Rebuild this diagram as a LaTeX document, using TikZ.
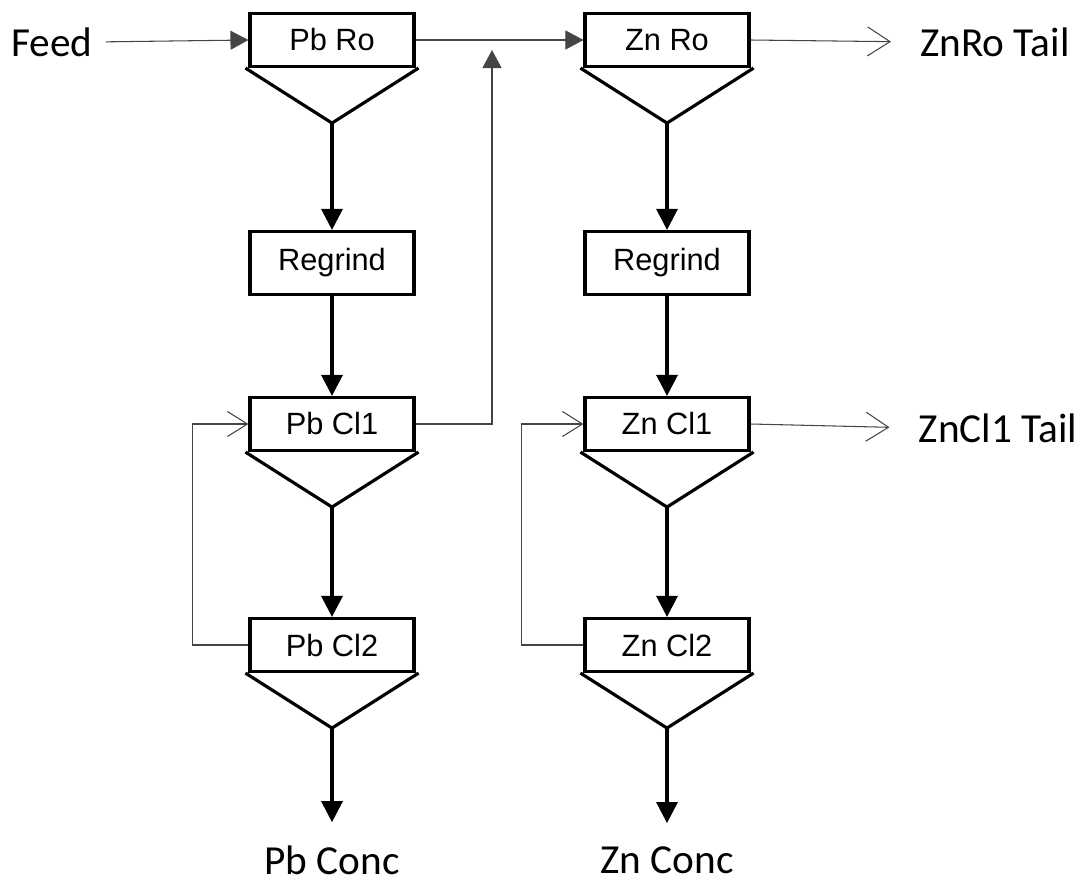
\documentclass[tikz,border=0pt]{standalone}
\usepackage{fontspec}
\setmainfont{Carlito}
\newfontfamily\boxfont{Liberation Sans}
\usetikzlibrary{positioning}
\usetikzlibrary{calc}
\usetikzlibrary{arrows.meta}
\definecolor{flowgray}{rgb}{0.27,0.27,0.27}
\tikzset{
  pics/flot_cell/.style args={#1,#2}{
     code={
       \node[cellbox] (#1) at (0,0) {#2};
       \draw[heavy] ($(#1.south west)+(-3,0)$) -- ($(#1.south)+(0,55)$) coordinate (#1-apex) -- ($(#1.south east)+(3,0)$);
     }
  },
  heavy/.style={line width=1.8pt, line join=miter},
  thinflow/.style={line width=0.6pt, draw=flowgray}
}

\begin{document}
\begin{tikzpicture}
    [x=0.02cm, y=-0.02cm,
    cellbox/.style={rectangle, draw, heavy, minimum width=3.28cm, minimum height=1.06cm, inner sep=0pt, font=\boxfont\fontsize{17.5}{20}\selectfont},
    grindbox/.style={cellbox, minimum height=1.26cm},
    stream/.style={font=\fontsize{23.5}{26}\selectfont, inner sep=0pt},
    solid tip/.style={-{Triangle[length=0.42cm, width=0.42cm]}},
    thin tip/.style={-{Triangle[length=0.36cm, width=0.38cm]}},
    open tip/.style={-{Straight Barb[length=0.45cm, width=0.58cm, line width=0.6pt]}},
    small tip/.style={-{Straight Barb[length=0.4cm, width=0.5cm, line width=0.6pt]}}]
    \useasboundingbox (0,0) rectangle (1085,883);
    % lead circuit
    \pic at (332,40) {flot_cell={pbro,Pb Ro}};
    \node[grindbox] (pbgrind) at (332,263) {Regrind};
    \pic at (332,424) {flot_cell={pbcl1,Pb Cl1}};
    \pic at (332,645) {flot_cell={pbcl2,Pb Cl2}};
    % zinc circuit
    \pic at (667,40) {flot_cell={znro,Zn Ro}};
    \node[grindbox] (zngrind) at (667,263) {Regrind};
    \pic at (667,424) {flot_cell={zncl1,Zn Cl1}};
    \pic at (667,645) {flot_cell={zncl2,Zn Cl2}};
    % streams
    \node[stream] (feed) at (52,42) {Feed};
    \node[stream] (znrotail) at (995,42) {ZnRo Tail};
    \node[stream] (zncl1tail) at (998,428) {ZnCl1 Tail};
    \node[stream] (pbconc) at (332,860) {Pb Conc};
    \node[stream] (znconc) at (667,860) {Zn Conc};
    \coordinate (pbjoin) at (492,50);
    % feed and tails
    \draw[thinflow, thin tip, shorten <=0.26cm] (feed.east) -- (pbro.west);
    \draw[thinflow, thin tip] (pbro.east) -- (znro.west);
    \draw[thinflow, thin tip] (pbcl1.east) -| (pbjoin);
    \draw[thinflow, open tip, shorten >=0.58cm] (znro.east) -- (znrotail.west);
    \draw[thinflow, open tip, shorten >=0.58cm] (zncl1.east) -- (zncl1tail.west);
    % downward flow
    \draw[heavy, solid tip] (pbro-apex) -- (pbgrind.north);
    \draw[heavy, solid tip] (pbgrind.south) -- (pbcl1.north);
    \draw[heavy, solid tip] (pbcl1-apex) -- (pbcl2.north);
    \draw[heavy, solid tip, shorten >=0.46cm] (pbcl2-apex) -- (pbconc.north);
    \draw[heavy, solid tip] (znro-apex) -- (zngrind.north);
    \draw[heavy, solid tip] (zngrind.south) -- (zncl1.north);
    \draw[heavy, solid tip] (zncl1-apex) -- (zncl2.north);
    \draw[heavy, solid tip, shorten >=0.46cm] (zncl2-apex) -- (znconc.north);
    % cleaner recycle
    \draw[thinflow, small tip] (pbcl2.west) -- ++(-56,0) |- (pbcl1.west);
    \draw[thinflow, small tip] (zncl2.west) -- ++(-62,0) |- (zncl1.west);
\end{tikzpicture}
\end{document}
